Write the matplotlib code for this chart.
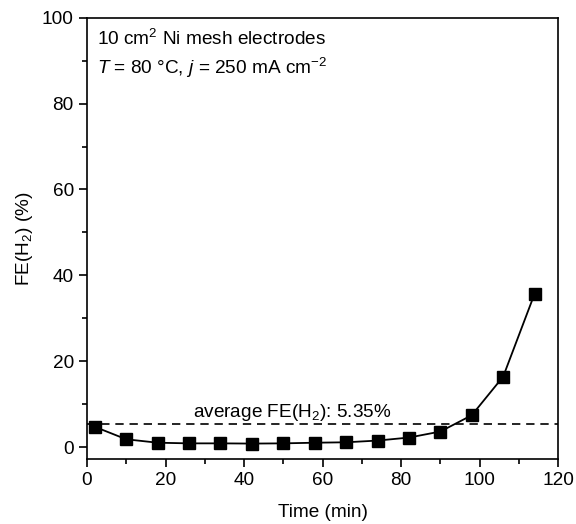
import numpy as np
import matplotlib.pyplot as plt
from matplotlib.ticker import MultipleLocator

plt.rcParams['font.family'] = ['Liberation Sans', 'DejaVu Sans']
plt.rcParams['mathtext.fontset'] = 'custom'
plt.rcParams['mathtext.rm'] = 'Liberation Sans'
plt.rcParams['mathtext.it'] = 'Liberation Sans:italic'
plt.rcParams['font.size'] = 13.7

# Faradaic efficiency of H2 over time
time_min = [2, 10, 18, 26, 34, 42, 50, 58, 66, 74, 82, 90, 98, 106, 114]
fe_h2 = [4.7, 1.8, 1.0, 0.85, 0.85, 0.8, 0.85, 1.0, 1.1, 1.5, 2.2, 3.6, 7.4, 16.4, 35.7]
fe_avg = 5.35

fig = plt.figure(figsize=(5.76, 5.24), dpi=100)
ax = fig.add_axes([0.151, 0.124, 0.818, 0.842])

ax.plot(time_min, fe_h2, color='black', lw=1.3, marker='s', ms=8.5)
ax.axhline(fe_avg, color='black', lw=1.2, ls=(0, (5, 3.5)))

ax.text(27, fe_avg + 1.6, 'average FE(H$_2$): %.2f%%' % fe_avg)
ax.text(0.022, 0.976, '10 cm$^2$ Ni mesh electrodes', transform=ax.transAxes,
        va='top')
ax.text(0.022, 0.913, '$T$ = 80 °C, $j$ = 250 mA cm$^{\\mathregular{-2}}$',
        transform=ax.transAxes, va='top')

ax.set_xlim(0, 120)
ax.set_ylim(-2.8, 100)
ax.xaxis.set_major_locator(MultipleLocator(20))
ax.xaxis.set_minor_locator(MultipleLocator(10))
ax.yaxis.set_major_locator(MultipleLocator(20))
ax.yaxis.set_minor_locator(MultipleLocator(10))
ax.tick_params(which='major', direction='out', length=6, width=1.2)
ax.tick_params(which='minor', direction='out', length=3.5, width=1.2)
for s in ax.spines.values():
    s.set_linewidth(1.2)

ax.set_xlabel('Time (min)', labelpad=11)
ax.set_ylabel('FE(H$_2$) (%)', labelpad=5)

plt.savefig('out.png', dpi=100)
